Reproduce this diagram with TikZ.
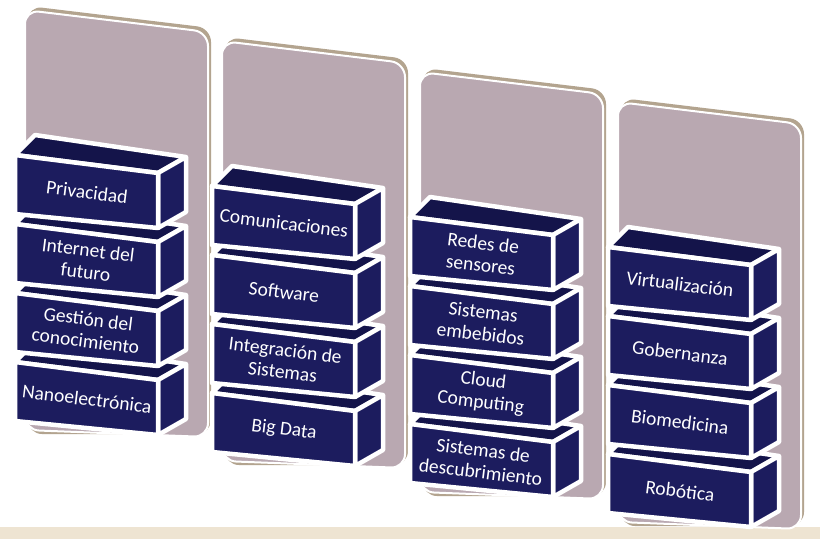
\documentclass[tikz,border=0pt]{standalone}
\usepackage{fontspec}
\setmainfont{Carlito}
\definecolor{boxblue}{HTML}{1C1C5E}
\definecolor{boxtop}{HTML}{14144A}
\definecolor{panelfill}{HTML}{B9A8B1}
\definecolor{panelshade}{HTML}{B3A48F}
\definecolor{floorband}{HTML}{EEE4D2}
\tikzset{
  panel/.style={fill=panelfill, draw=white, line width=2pt, rounded corners=14pt},
  panelshadow/.style={fill=panelshade, rounded corners=14pt},
  face/.style={fill=boxblue, draw=white, line width=4.5pt, line join=round},
  boxtext/.style={text=white, font=\fontsize{19.5}{22}\selectfont, align=center, rotate=-7}
}
% panel behind a column, at the corner of its top box
\newcommand{\techpanel}[2]{%
  \begin{scope}[shift={(#1,#2)}]
    \fill[panelshadow] (13,-149) -- (196,-127) -- (196,279) -- (13,279) -- cycle;
    \draw[panel] (10,-145) -- (193,-123) -- (193,282) -- (10,275) -- cycle;
  \end{scope}}
% one box: name, x, y, text
\newcommand{\techbox}[4]{%
  \begin{scope}[shift={(#2,#3)}]
    \draw[face, fill=boxtop] (0,0) -- (20,-20) -- (171,2) -- (143,18) -- cycle;
    \draw[face] (143,18) -- (171,2) -- (171,57) -- (143,73) -- cycle;
    \draw[face] (0,0) -- (143,18) -- (143,73) -- (0,59) -- cycle;
    \node[boxtext] (#1) at (72,37) {#4};
  \end{scope}}
\begin{document}
\begin{tikzpicture}[x=1pt, y=-1pt]
  \useasboundingbox (0,0) rectangle (820,539);
  \fill[white] (0,0) rectangle (820,539);
  \fill[floorband] (0,527) rectangle (820,539);
  % panels
  \techpanel{15}{155}
  \techpanel{212}{186}
  \techpanel{410}{217}
  \techpanel{608}{247}
  % column 1, from the bottom up
  \techbox{nano}{15}{362}{Nanoelectrónica}
  \techbox{gest}{15}{293}{Gestión del\\conocimiento}
  \techbox{inet}{15}{224}{Internet del\\futuro}
  \techbox{priv}{15}{155}{Privacidad}
  % column 2
  \techbox{bigd}{212}{393}{Big Data}
  \techbox{integ}{212}{324}{Integración de\\Sistemas}
  \techbox{soft}{212}{255}{Software}
  \techbox{comu}{212}{186}{Comunicaciones}
  % column 3
  \techbox{desc}{410}{424}{Sistemas de\\descubrimiento}
  \techbox{cloud}{410}{355}{Cloud\\Computing}
  \techbox{embe}{410}{286}{Sistemas\\embebidos}
  \techbox{redes}{410}{217}{Redes de\\sensores}
  % column 4
  \techbox{robo}{608}{454}{Robótica}
  \techbox{biom}{608}{385}{Biomedicina}
  \techbox{gober}{608}{316}{Gobernanza}
  \techbox{virt}{608}{247}{Virtualización}
\end{tikzpicture}
\end{document}
